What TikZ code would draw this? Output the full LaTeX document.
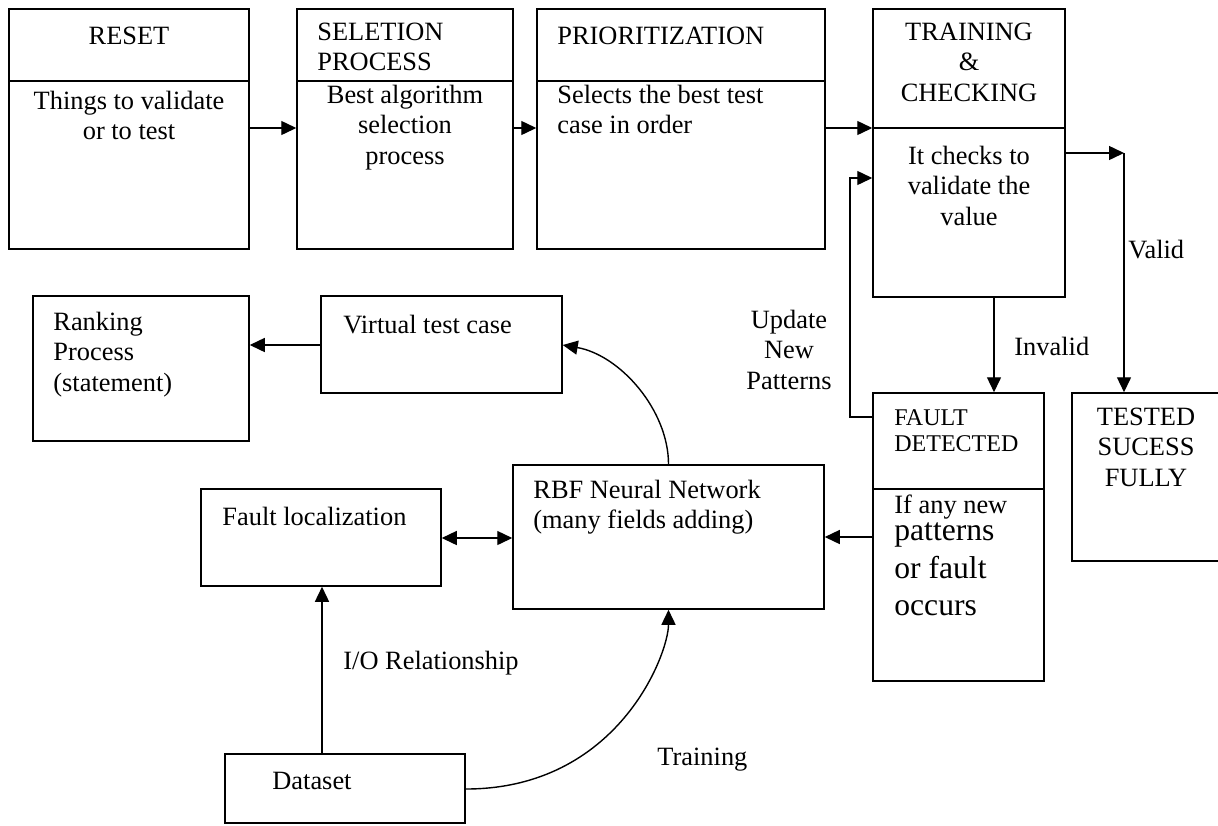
\documentclass[tikz,border=0pt]{standalone}
\usepackage{fontspec}
\setmainfont{Liberation Serif}
\usetikzlibrary{arrows.meta,fit}
\tikzset{
  box/.style={draw, line width=0.75pt, inner sep=0pt},
  divider/.style={line width=0.75pt},
  txt/.style={inner sep=0pt, font=\fontsize{13.2}{15.2}\selectfont, execute at begin node=\strut},
  onetxt/.style={inner sep=0pt, font=\fontsize{13.2}{15.2}\selectfont, anchor=base west},
  smalltxt/.style={inner sep=0pt, font=\fontsize{12}{13}\selectfont, execute at begin node=\strut},
  bigtxt/.style={inner sep=0pt, font=\fontsize{15.8}{18.8}\selectfont, execute at begin node=\strut},
  conn/.style={line width=0.7pt, -{Triangle[length=7.5pt,width=7pt]}},
  dconn/.style={line width=0.7pt, {Triangle[length=7.5pt,width=7pt]}-{Triangle[length=7.5pt,width=7pt]}},
}
\begin{document}
\begin{tikzpicture}[x=0.5pt,y=-0.5pt]
\useasboundingbox[fill=white] (0,0) rectangle (1218,825);

% boxes
\node[box, fit={(9,9)(249,249)}] (reset) {};
\node[box, fit={(297,9)(513,249)}] (sel) {};
\node[box, fit={(537,9)(825,249)}] (prio) {};
\node[box, fit={(873,9)(1065,297)}] (train) {};
\node[box, fit={(33,296)(249,441)}] (rank) {};
\node[box, fit={(321,296)(562,393)}] (virt) {};
\node[box, fit={(201,489)(441,586)}] (floc) {};
\node[box, fit={(513,465)(824,609)}] (rbf) {};
\node[box, fit={(873,393)(1044,681)}] (fault) {};
\node[box, fit={(1072,393)(1222,561)}] (tested) {};
\node[box, fit={(225,754)(465,823)}] (data) {};

% dividers
\draw[divider] (9,81) -- (249,81);
\draw[divider] (297,81) -- (513,81);
\draw[divider] (537,81) -- (825,81);
\draw[divider] (873,128) -- (1065,128);
\draw[divider] (873,489) -- (1044,489);

% texts
\node[onetxt, anchor=base] (tReset) at (129,44) {RESET};
\node[txt, anchor=north, align=center] (bReset) at (129,90.7) {Things to validate\\or to test};
\node[txt, anchor=north west, align=left] (tSel) at (317,22.7) {SELETION\\PROCESS};
\node[txt, anchor=north, align=center] (bSel) at (405,84.7) {Best algorithm\\selection\\process};
\node[onetxt] (tPrio) at (557,44) {PRIORITIZATION};
\node[txt, anchor=north west, align=left] (bPrio) at (557,84.7) {Selects the best test\\case in order};
\node[txt, anchor=north, align=center] (tTrain) at (969,22.7) {TRAINING\\\&\\CHECKING};
\node[txt, anchor=north, align=center] (bTrain) at (969,145.7) {It checks to\\validate the\\value};
\node[txt, anchor=north west, align=left] (tRank) at (53,311.7) {Ranking\\Process\\(statement)};
\node[onetxt] (tVirt) at (343,333) {Virtual test case};
\node[onetxt] (tFloc) at (222,525) {Fault localization};
\node[txt, anchor=north west, align=left] (tRbf) at (533,479.7) {RBF Neural Network\\(many fields adding)};
\node[smalltxt, anchor=north west, align=left] (tFault) at (894,408.8) {FAULT\\DETECTED};
\node[onetxt] (bFault1) at (894,513) {If any new};
\node[bigtxt, anchor=north west, align=left] (bFault2) at (894,522.5) {patterns\\or fault\\occurs};
\node[txt, anchor=north, align=center] (tTested) at (1146,407.7) {TESTED\\SUCESS\\FULLY};
\node[onetxt] (tData) at (272,789) {Dataset};

% connector labels
\node[txt, anchor=north, align=center] (lUpdate) at (789,309.7) {Update\\New\\Patterns};
\node[onetxt] (lValid) at (1128,258) {Valid};
\node[onetxt] (lInvalid) at (1014,355) {Invalid};
\node[onetxt] (lIO) at (343,669) {I/O Relationship};
\node[onetxt] (lTrain) at (657,765) {Training};

% helper coordinates
\coordinate (y128) at (0,128);
\coordinate (y153) at (0,153);
\coordinate (y178) at (0,178);
\coordinate (y345) at (0,345);
\coordinate (y417) at (0,417);
\coordinate (y537) at (0,537);
\coordinate (y538) at (0,538);
\coordinate (y789) at (0,789);
\coordinate (x322) at (322,0);
\coordinate (x994) at (994,0);
\coordinate (vcorner) at (1124,153);
\coordinate (ucorner1) at (850,417);
\coordinate (ucorner2) at (850,178);

% connectors
\draw[conn] (reset.east |- y128) -- (sel.west |- y128);
\draw[conn] (sel.east |- y128) -- (prio.west |- y128);
\draw[conn] (prio.east |- y128) -- (train.west |- y128);
\draw[conn] (train.east |- y153) -- (vcorner);
\draw[conn] (vcorner) -- (tested.north -| vcorner);
\draw[conn] (train.south -| x994) -- (fault.north -| x994);
\draw[conn] (fault.west |- y417) -- (ucorner1) -- (ucorner2) -- (train.west |- y178);
\draw[conn] (fault.west |- y537) -- (rbf.east |- y537);
\draw[dconn] (floc.east |- y538) -- (rbf.west |- y538);
\draw[conn] (virt.west |- y345) -- (rank.east |- y345);
\draw[conn] (rbf.north) .. controls (668.5,410) and (620,355) .. (virt.east |- y345);
\draw[conn] (data.north -| x322) -- (floc.south -| x322);
\draw[conn] (data.east |- y789) .. controls (618,789) and (668.5,654) .. (rbf.south);
\end{tikzpicture}
\end{document}
